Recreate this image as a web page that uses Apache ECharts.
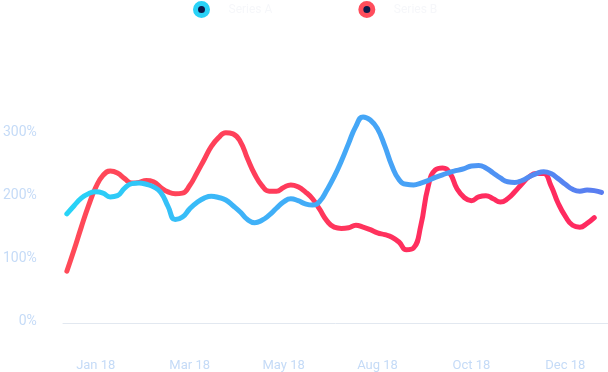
<!DOCTYPE html>
<html>
<head>
<meta charset="utf-8">
<script src="https://cdn.jsdelivr.net/npm/echarts@6/dist/echarts.min.js"></script>
<style>
html,body{margin:0;padding:0;background:#fff;}
#chart{width:608px;height:372px;}
</style>
</head>
<body>
<div id="chart"></div>
<script>
const seriesNames = ['Series A', 'Series B'];
const tickIndex = [4, 17, 30, 43, 56, 69];
const tickLabels = ['Jan 18', 'Mar 18', 'May 18', 'Aug 18', 'Oct 18', 'Dec 18'];
const yTicks = [0, 100, 200, 300];

const blueValues = [
  170, 183, 195, 202, 205, 203, 197, 199, 211, 218,
  219, 217, 213, 204, 182, 161, 165, 178, 188, 195,
  198, 196, 192, 183, 173, 161, 156, 160, 168, 179,
  189, 194, 191, 186, 184, 190, 208, 229, 254, 282,
  309, 324, 319, 305, 278, 246, 224, 217, 216, 219,
  223, 228, 232, 236, 239, 242, 246, 247, 243, 235,
  227, 221, 220, 223, 229, 234, 237, 234, 226, 217,
  209, 206, 208, 207, 204
];
const redValues = [
  79, 113, 149, 183, 212, 231, 238, 235, 226, 219,
  220, 223, 221, 212, 205, 202, 203, 215, 235, 256,
  277, 291, 299, 297, 285, 258, 233, 215, 206, 206,
  212, 216, 213, 205, 194, 177, 159, 149, 147, 148,
  152, 149, 145, 140, 137, 133, 125, 113, 116, 152,
  213, 240, 243, 235, 210, 196, 191, 197, 199, 194,
  189, 194, 205, 218, 229, 234, 234, 215, 187, 166,
  152, 149, 155, 164
];
const categories = blueValues.map((_, i) => 'P' + (i + 1));

const chart = echarts.init(document.getElementById('chart'), null, {renderer: 'canvas'});
const grad = (stops) => new echarts.graphic.LinearGradient(0, 0, 1, 0, stops.map((c, i) => ({offset: i / (stops.length - 1), color: c})));

chart.setOption({
  animation: false,
  backgroundColor: '#ffffff',
  legend: {
    top: 1,
    left: 193,
    padding: 0,
    itemWidth: 12,
    itemHeight: 12,
    itemGap: 86,
    icon: 'circle',
    textStyle: {color: '#f6f7fa', fontSize: 12, fontFamily: 'Roboto', padding: [0, 0, 0, 16]},
    data: [
      {name: seriesNames[0], itemStyle: {color: '#0d1a4a', borderColor: '#29d2f7', borderWidth: 5}},
      {name: seriesNames[1], itemStyle: {color: '#0d1a4a', borderColor: '#ff4d5c', borderWidth: 5}}
    ]
  },
  grid: [
    {left: 65, right: 6.5, top: 69, bottom: 51, containLabel: false},
    {left: 63, right: 0, top: 69, bottom: 49, containLabel: false}
  ],
  xAxis: [
    {
      type: 'category',
      gridIndex: 0,
      data: categories,
      boundaryGap: false,
      axisLine: {show: false},
      axisTick: {show: false},
      splitLine: {show: false},
      axisLabel: {
        interval: (i) => tickIndex.indexOf(i) >= 0,
        formatter: (v, i) => { const k = tickIndex.indexOf(i); return k >= 0 ? tickLabels[k] : ''; },
        color: '#c5dbf7',
        fontSize: 13,
        fontFamily: 'Roboto',
        margin: 38
      }
    },
    {
      type: 'value',
      gridIndex: 1,
      min: 0, max: 1,
      axisLine: {show: true, lineStyle: {color: '#e2e8f0', width: 1}},
      axisTick: {show: false},
      axisLabel: {show: false},
      splitLine: {show: false}
    }
  ],
  yAxis: [
    {
      type: 'value',
      gridIndex: 0,
      min: yTicks[0],
      max: 400,
      interval: 100,
      axisLine: {show: false},
      axisTick: {show: false},
      splitLine: {show: false},
      axisLabel: {
        showMaxLabel: false,
        formatter: (v) => yTicks.indexOf(v) >= 0 ? v + '%' : '',
        color: '#c5dbf7',
        fontSize: 14,
        fontFamily: 'Roboto',
        margin: 30
      }
    },
    {
      type: 'value', gridIndex: 1, min: 0, max: 1, show: false
    }
  ],
  series: [
    {
      name: seriesNames[0],
      type: 'line',
      data: blueValues,
      smooth: true,
      showSymbol: false,
      symbol: 'none',
      itemStyle: {color: '#29d2f7'},
      lineStyle: {width: 5, cap: 'round', join: 'round', color: grad(['#27d4f7', '#3fb2f8', '#48a0f6', '#5a7cf0'])},
      z: 3
    },
    {
      name: seriesNames[1],
      type: 'line',
      data: redValues,
      smooth: true,
      showSymbol: false,
      symbol: 'none',
      itemStyle: {color: '#ff4d5c'},
      lineStyle: {width: 5, cap: 'round', join: 'round', color: grad(['#ff4a58', '#ff3f5a', '#ff2e5e', '#ff2a60'])},
      z: 2
    }
  ]
});
</script>
</body>
</html>
